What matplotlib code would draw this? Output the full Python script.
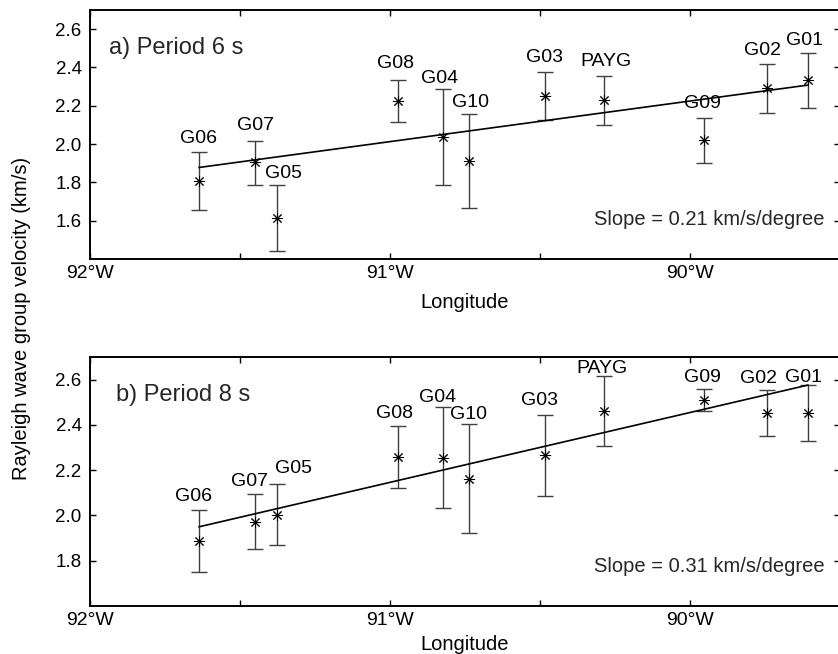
import numpy as np
import matplotlib.pyplot as plt

plt.rcParams['font.family'] = ['Liberation Sans', 'DejaVu Sans']

# station names and longitudes (deg, west negative)
stations = ['G06', 'G07', 'G05', 'G08', 'G04', 'G10', 'G03', 'PAYG', 'G09', 'G02', 'G01']
lon = [-91.636, -91.449, -91.376, -90.974, -90.822, -90.738,
       -90.482, -90.286, -89.953, -89.745, -89.607]

# period 6 s: group velocity and error bar limits (km/s)
vel_6 = [1.808, 1.904, 1.614, 2.225, 2.036, 1.911, 2.249, 2.230, 2.020, 2.291, 2.333]
top_6 = [1.961, 2.018, 1.787, 2.333, 2.286, 2.157, 2.374, 2.357, 2.138, 2.419, 2.473]
bot_6 = [1.654, 1.787, 1.444, 2.117, 1.786, 1.666, 2.124, 2.100, 1.902, 2.161, 2.189]
fit_6 = [1.878, 2.308]   # fitted line at first / last station
slope_6 = 0.21

# period 8 s
vel_8 = [1.887, 1.973, 2.004, 2.257, 2.256, 2.161, 2.265, 2.461, 2.510, 2.451, 2.451]
top_8 = [2.026, 2.095, 2.138, 2.394, 2.481, 2.406, 2.444, 2.615, 2.559, 2.554, 2.578]
bot_8 = [1.750, 1.850, 1.868, 2.120, 2.031, 1.923, 2.086, 2.309, 2.461, 2.351, 2.328]
fit_8 = [1.950, 2.576]
slope_8 = 0.31

# label nudges in pixels (dx, dy above top of error bar)
lab_off_6 = [(-1, 9), (0, 11), (6, 7), (-2, 12), (-4, 6), (2, 7),
             (-1, 10), (2, 10), (-2, 10), (-4, 9), (-3, 8)]
lab_off_8 = [(-6, 9), (-6, 8), (16, 11), (-3, 8), (-6, 5), (0, 5),
             (-6, 10), (-2, 3), (-2, 7), (-8, 7), (-4, 3)]

W, H = 838, 654
fig = plt.figure(figsize=(W / 100, H / 100), dpi=100)


def px_axes(x0, y0, x1, y1):
    return fig.add_axes([x0 / W, 1 - y1 / H, (x1 - x0) / W, (y1 - y0) / H])


ax1 = px_axes(90, 10, 840, 259)
ax2 = px_axes(90, 357, 840, 606)

panels = [
    (ax1, vel_6, top_6, bot_6, fit_6, slope_6, lab_off_6, 'a) Period 6 s', (1.4, 2.7), 8, 0.025),
    (ax2, vel_8, top_8, bot_8, fit_8, slope_8, lab_off_8, 'b) Period 8 s', (1.6, 2.7), 5, 0.035),
]

for ax, vel, top, bot, fit, slope, offs, title, ylim, lpad, tx in panels:
    vel = np.array(vel)
    yerr = [vel - np.array(bot), np.array(top) - vel]
    ax.errorbar(lon, vel, yerr=yerr, fmt='none', ecolor='0.25', elinewidth=1.0,
                capsize=6, capthick=1.0, zorder=2)
    ax.plot(lon, vel, linestyle='none', marker=(8, 2, 0), markersize=8,
            markeredgecolor='k', markeredgewidth=0.7, zorder=3)
    ax.plot([lon[0], lon[-1]], fit, color='k', lw=1.2, zorder=2)

    for name, x, t, (dx, dy) in zip(stations, lon, top, offs):
        ax.annotate(name, (x, t), xytext=(dx * 0.72, dy * 0.72),
                    textcoords='offset points', ha='center', va='baseline',
                    fontsize=14, annotation_clip=False)

    ax.text(tx, 0.825, title, transform=ax.transAxes, fontsize=17,
            ha='left', va='baseline', color='0.15')
    ax.text(0.979, 0.135, 'Slope = %.2f km/s/degree' % slope, transform=ax.transAxes,
            fontsize=14.5, ha='right', va='baseline', color='0.15')

    ax.set_xlim(-92, -89.517)
    ax.set_ylim(*ylim)
    ax.set_xticks([-92, -91.5, -91, -90.5, -90, -89.5])
    ax.set_xticklabels(['92°W', '', '91°W', '', '90°W', ''])
    ax.set_yticks(np.arange(ylim[0] + 0.2, 2.61, 0.2))
    ax.yaxis.set_major_formatter(plt.FormatStrFormatter('%.1f'))
    ax.tick_params(direction='in', top=True, right=True, length=4.5, width=1,
                   labelsize=13.5, pad=6)
    ax.tick_params(axis='x', labelsize=14, pad=4)
    for sp in ax.spines.values():
        sp.set_linewidth(1.4)
    ax.set_xlabel('Longitude', fontsize=14.5, labelpad=lpad)

fig.text(22 / W, 1 - 318 / H, 'Rayleigh wave group velocity (km/s)', rotation=90,
         ha='center', va='center', fontsize=14.5)

fig.savefig('out.png', dpi=100)
